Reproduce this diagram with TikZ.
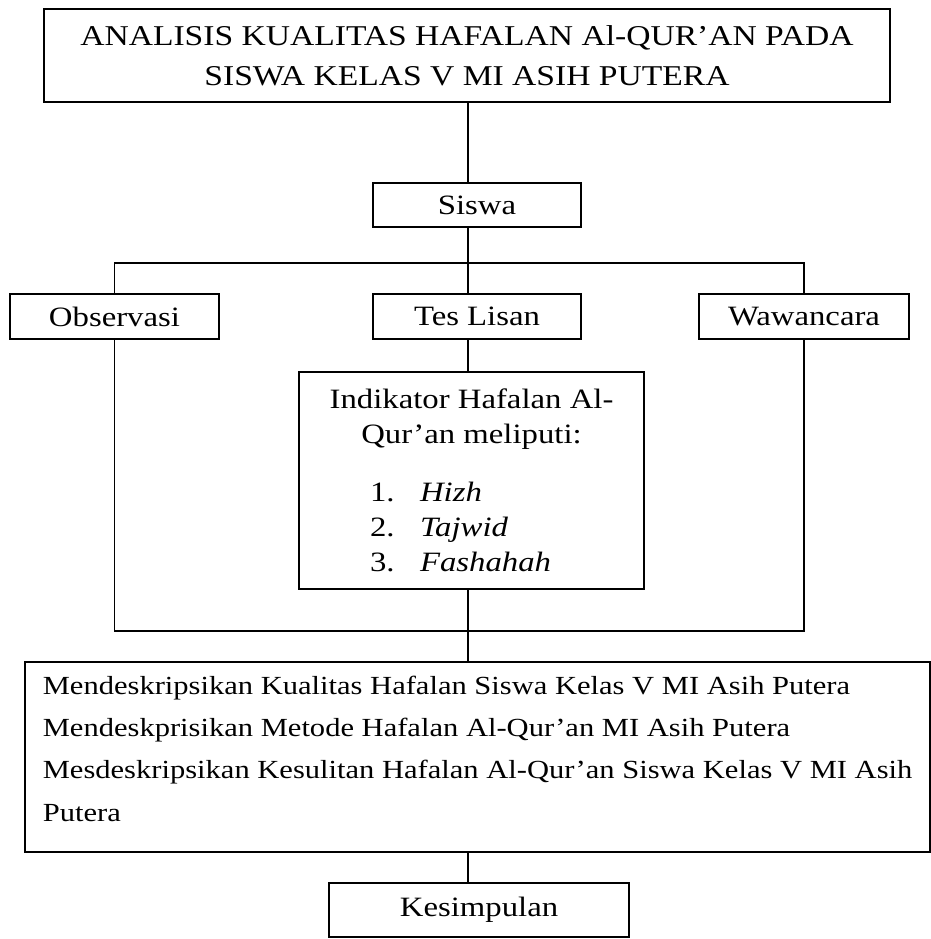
\documentclass[tikz,border=0pt]{standalone}
\usepackage{fontspec}
\setmainfont{Liberation Serif}[FakeStretch=1.17]

\newcommand{\butir}[2]{\makebox[203pt][l]{\makebox[50pt][l]{#1.}\textit{#2}}}

\begin{document}
\begin{tikzpicture}[x=1pt, y=-1pt,
    kotak/.style={rectangle, draw, line width=2.2pt, inner sep=0pt,
        font=\fontsize{28}{35}\selectfont},
    garis/.style={line width=1.6pt}
]
    \useasboundingbox (0,0) rectangle (930,939);

    % Judul penelitian
    \node[kotak, minimum width=846, minimum height=93, align=center,
        font=\fontsize{28.7}{40}\selectfont] (judul) at (467,55.5)
        {ANALISIS KUALITAS HAFALAN Al-QUR'AN PADA\\SISWA KELAS V MI ASIH PUTERA};

    % Subjek dan teknik pengumpulan data
    \node[kotak, minimum width=208, minimum height=44] (siswa) at (477,205) {Siswa};
    \node[kotak, minimum width=209, minimum height=45] (observasi) at (114.5,316.5) {Observasi};
    \node[kotak, minimum width=208, minimum height=45] (tes) at (477,316.5) {Tes Lisan};
    \node[kotak, minimum width=210, minimum height=45] (wawancara) at (804,316.5) {Wawancara};

    % Indikator hafalan
    \node[kotak, minimum width=345, minimum height=217, align=center] (indikator) at (471.5,480.5)
        {Indikator Hafalan Al-\\Qur'an meliputi:\\[23pt]\butir{1}{Hizh}\\\butir{2}{Tajwid}\\\butir{3}{Fashahah}};

    % Hasil dan kesimpulan
    \node[kotak, anchor=north west, minimum width=905, minimum height=190, align=left,
        font=\fontsize{26.1}{42.4}\selectfont] (hasil) at (24,661)
        {Mendeskripsikan Kualitas Hafalan Siswa Kelas V MI Asih Putera\\
         Mendeskprisikan Metode Hafalan Al-Qur'an MI Asih Putera\\
         Mesdeskripsikan Kesulitan Hafalan Al-Qur'an Siswa Kelas V MI Asih\\
         Putera\rule[-17pt]{0pt}{1pt}};
    \node[kotak, minimum width=300, minimum height=54] (simpulan) at (479,910) {Kesimpulan};

    % Garis penghubung
    \coordinate (atas) at (468,263);
    \coordinate (bawah) at (468,631);
    \draw[garis] (judul.south -| atas) -- (siswa.north -| atas);
    \draw[garis] (siswa.south -| atas) -- (tes.north -| atas);
    \draw[garis] (observasi.north) |- (atas) -| (wawancara.north);
    \draw[garis] (tes.south -| atas) -- (indikator.north -| atas);
    \draw[garis] (observasi.south) |- (bawah) -| (wawancara.south);
    \draw[garis] (indikator.south -| atas) -- (hasil.north -| atas);
    \draw[garis] (hasil.south -| atas) -- (simpulan.north -| atas);
\end{tikzpicture}
\end{document}
